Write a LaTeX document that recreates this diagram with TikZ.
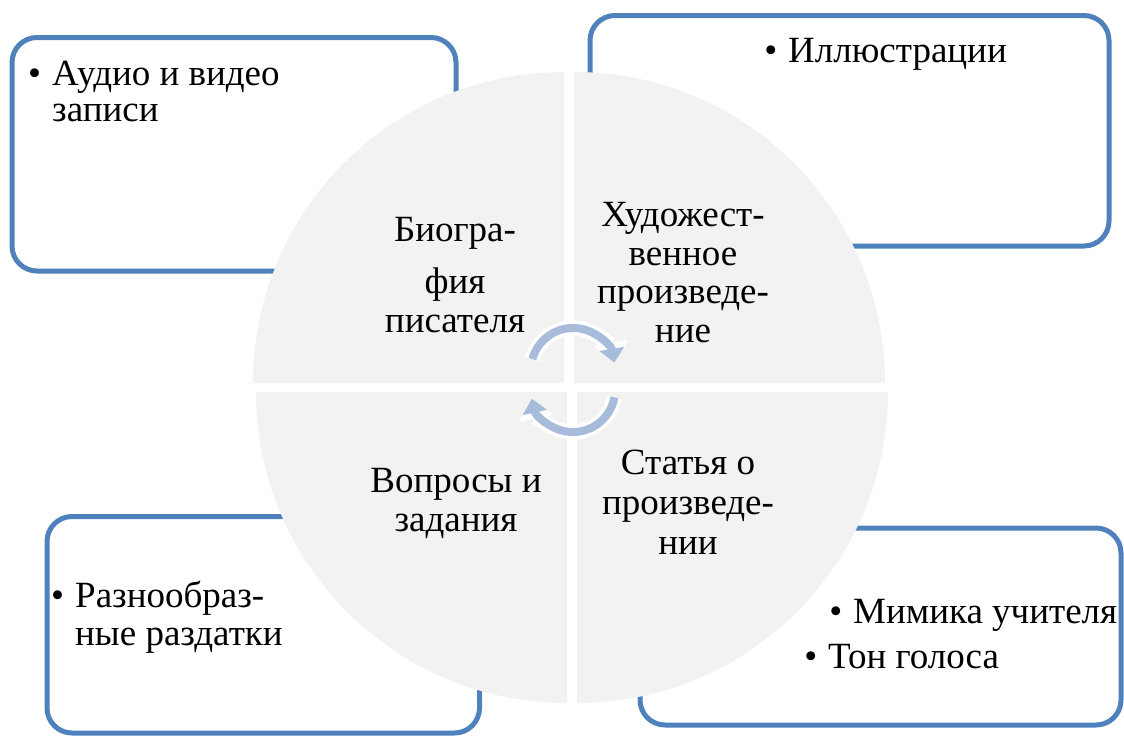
\documentclass[tikz,border=0pt]{standalone}
\usepackage{fontspec}
\setmainfont{Liberation Serif}
\usepackage{tikz}
\usetikzlibrary{arrows.meta}

\definecolor{boxblue}{RGB}{79,129,189}
\definecolor{piegray}{RGB}{242,242,242}
\definecolor{cyclearrow}{RGB}{167,187,218}

\newcommand{\itemdot}{\llap{\textbullet\hspace{11pt}}}

\begin{document}
\begin{tikzpicture}[x=1pt,y=-1pt,
    infobox/.style={draw=boxblue,line width=5pt,fill=white,rounded corners=25pt,inner sep=0pt},
    cardtext/.style={inner sep=0pt,align=left,anchor=base west,font=\fontsize{37}{36}\selectfont},
    pietext/.style={inner sep=0pt,align=center,anchor=base,font=\fontsize{37}{38.5}\selectfont},
    cyclehalo/.style={draw=white,line width=15pt,-{Triangle[width=34pt,length=20pt]}},
    cyclearc/.style={draw=cyclearrow,line width=8pt,-{Triangle[width=24pt,length=14pt]}}]

    \useasboundingbox (0,0) rectangle (1124,736);

    \node[infobox,minimum width=444pt,minimum height=233.5pt] (audio) at (234,154.25) {};
    \node[infobox,minimum width=519pt,minimum height=230.5pt] (pictures) at (849.5,130.75) {};
    \node[infobox,minimum width=481pt,minimum height=197pt] (voice) at (880.5,626.5) {};
    \node[infobox,minimum width=432.5pt,minimum height=216.5pt] (handouts) at (263.25,624.75) {};

    \fill[piegray] (564,383) -- ++(180:311) arc[start angle=180,end angle=270,radius=311] -- cycle;
    \fill[piegray] (574,383) -- ++(270:311) arc[start angle=270,end angle=360,radius=311] -- cycle;
    \fill[piegray] (577,392) -- ++(0:311) arc[start angle=0,end angle=90,radius=311] -- cycle;
    \fill[piegray] (567,392) -- ++(90:311) arc[start angle=90,end angle=180,radius=311] -- cycle;

    \coordinate (topturn) at (573,370);
    \coordinate (bottomturn) at (573,390);
    \draw[cyclehalo] (topturn) ++(-165:42) arc[start angle=-165,end angle=-10,radius=42];
    \draw[cyclehalo] (bottomturn) ++(10:42) arc[start angle=10,end angle=168,radius=42];
    \draw[cyclearc] (topturn) ++(-165:42) arc[start angle=-165,end angle=-10,radius=42];
    \draw[cyclearc] (bottomturn) ++(10:42) arc[start angle=10,end angle=168,radius=42];

    \node[pietext] (bio) at (455,332) {Биогра-\\[14pt]фия\\писателя};
    \node[pietext] (work) at (683,342) {Художест-\\венное\\произведе-\\ние};
    \node[pietext] (tasks) at (456,531) {Вопросы и\\задания};
    \node[pietext,font=\fontsize{37}{40}\selectfont] (article) at (688,554) {Статья о\\произведе-\\нии};

    \node[cardtext] (audiotext) at (52,121) {\itemdot Аудио и видео\\записи};
    \node[cardtext] (picturestext) at (788,62) {\itemdot Иллюстрации};
    \node[cardtext,font=\fontsize{37}{38}\selectfont] (handoutstext) at (75,645) {\itemdot Разнообраз-\\ные раздатки};
    \node[cardtext] (mimictext) at (853,623) {\itemdot Мимика учителя};
    \node[cardtext] (tonetext) at (828,668) {\itemdot Тон голоса};

\end{tikzpicture}
\end{document}
